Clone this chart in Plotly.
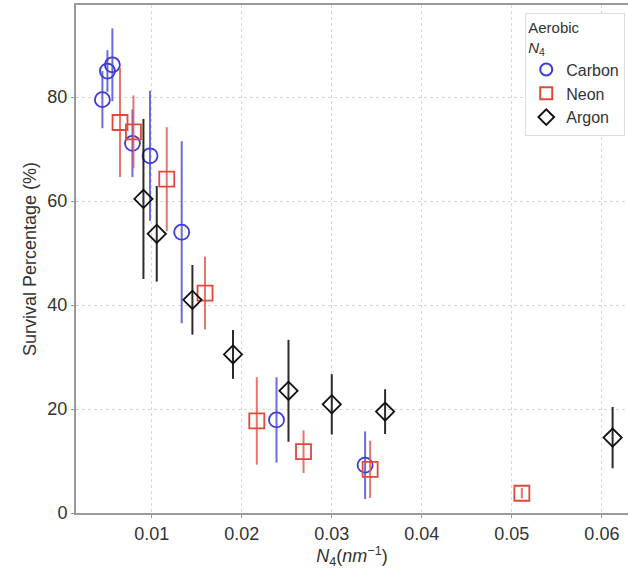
import plotly.graph_objects as go

carbon_x = [0.00452, 0.00508, 0.00563, 0.00786, 0.00981, 0.01333, 0.02386, 0.0337]
carbon_y = [79.5, 85.0, 86.2, 71.1, 68.7, 54.0, 17.9, 9.2]
carbon_err = [5.5, 4.0, 7.0, 6.5, 12.5, 17.5, 8.2, 6.5]

neon_x = [0.00648, 0.00797, 0.01167, 0.01592, 0.02167, 0.02686, 0.03426, 0.05111]
neon_y = [75.1, 73.3, 64.2, 42.3, 17.7, 11.8, 8.4, 3.8]
neon_err = [10.5, 7.0, 10.0, 7.0, 8.4, 4.1, 5.5, 1.0]

argon_x = [0.00908, 0.01056, 0.01452, 0.01903, 0.02519, 0.0300, 0.03592, 0.06119]
argon_y = [60.4, 53.7, 41.0, 30.5, 23.5, 20.9, 19.5, 14.5]
argon_err = [15.4, 9.2, 6.7, 4.7, 9.8, 5.8, 4.3, 5.9]

x_ticks = [0.01, 0.02, 0.03, 0.04, 0.05, 0.06]
x_ticklabels = ["0.01", "0.02", "0.03", "0.04", "0.05", "0.06"]
y_ticks = [0, 20, 40, 60, 80]

series = [
    ("Carbon", carbon_x, carbon_y, carbon_err, "circle-open", "#3b3bd6", "rgba(80,80,220,0.85)", 15),
    ("Neon", neon_x, neon_y, neon_err, "square-open", "#e0483a", "rgba(230,90,80,0.85)", 15),
    ("Argon", argon_x, argon_y, argon_err, "diamond-open", "#111111", "rgba(20,20,20,0.9)", 14),
]

fig = go.Figure()
for name, xs, ys, es, sym, col, ecol, sz in series:
    fig.add_trace(go.Scatter(
        x=xs, y=ys, mode="markers", name=name,
        marker=dict(symbol=sym, size=sz, color=col, line=dict(width=1.8, color=col)),
        error_y=dict(type="data", array=es, visible=True, color=ecol, thickness=2, width=0),
    ))

font_family = "Liberation Sans, Arial, sans-serif"
fig.update_layout(
    width=628, height=570,
    margin=dict(l=76, r=0, t=5, b=57),
    paper_bgcolor="white", plot_bgcolor="white",
    font=dict(family=font_family, size=17, color="#333333"),
    showlegend=True,
    legend=dict(
        title=dict(text="Aerobic<br><i>N</i><sub>4</sub>", font=dict(size=15, color="#333333")),
        x=0.995, y=0.985, xanchor="right", yanchor="top",
        bgcolor="white", bordercolor="#dddddd", borderwidth=1,
        font=dict(size=16, color="#333333"),
        itemsizing="constant",
    ),
    xaxis=dict(
        range=[0.00159, 0.0629],
        tickvals=x_ticks, ticktext=x_ticklabels,
        showgrid=True, gridcolor="#d8d8d8", griddash="dot", gridwidth=1,
        showline=True, linecolor="#9a9a9a", linewidth=2, mirror=True,
        ticks="outside", ticklen=3, tickcolor="#9a9a9a",
        tickfont=dict(size=18),
        zeroline=False,
        title=dict(text="<i>N</i><sub>4</sub>(<i>nm</i><sup>−1</sup>)", standoff=4, font=dict(size=18)),
    ),
    yaxis=dict(
        range=[0, 97.7],
        tickvals=y_ticks,
        showgrid=True, gridcolor="#d8d8d8", griddash="dot", gridwidth=1,
        showline=True, linecolor="#9a9a9a", linewidth=2,
        ticks="outside", ticklen=3, tickcolor="#9a9a9a",
        tickfont=dict(size=18),
        zeroline=False,
        title=dict(text="Survival Percentage (%)", standoff=6, font=dict(size=18)),
    ),
)

fig.write_html("out.html")
